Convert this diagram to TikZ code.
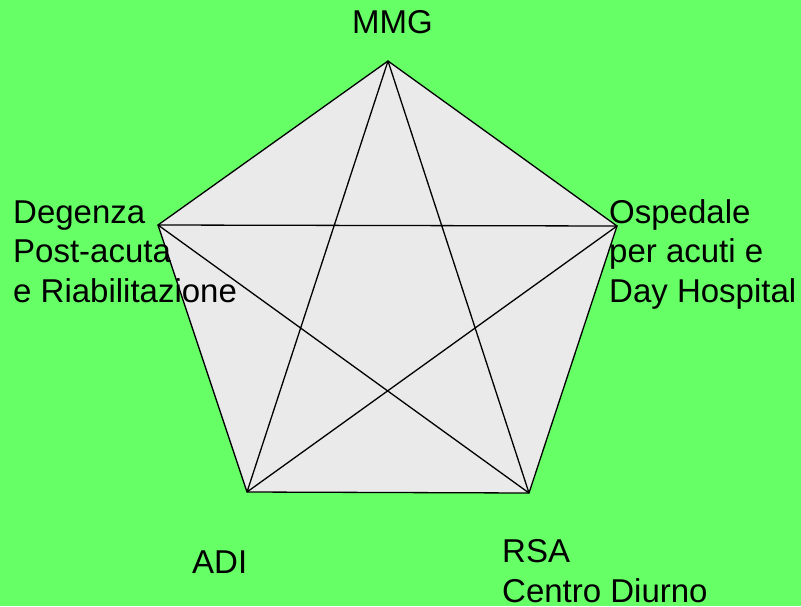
\documentclass[tikz,border=0pt]{standalone}
\usepackage{fontspec}
\setmainfont{Liberation Sans}
\definecolor{bggreen}{HTML}{66FF66}
\definecolor{pentgray}{HTML}{EAEAEA}
\begin{document}
\begin{tikzpicture}[x=1pt,y=-1pt,
  lbl/.style={font=\fontsize{33}{39.5}\selectfont, inner sep=0pt, align=left, anchor=base west},
  edge/.style={draw=black, line width=1.3pt, line join=miter}]
\fill[bggreen] (0,0) rectangle (801,606);
\useasboundingbox (0,0) rectangle (801,606);
\coordinate (T) at (388,61);
\coordinate (R) at (617,226);
\coordinate (BR) at (529,493);
\coordinate (BL) at (247,492);
\coordinate (L) at (158,225);
\fill[pentgray] (T) -- (R) -- (BR) -- (BL) -- (L) -- cycle;
\draw[edge] (T) -- (R) -- (BR) -- (BL) -- (L) -- cycle;
\draw[edge] (T) -- (BR) (T) -- (BL) (L) -- (R) (L) -- (BR) (R) -- (BL);
\node[lbl] (mmg) at (352,33) {MMG};
\node[lbl] (deg) at (13,302) {Degenza\\Post-acuta\\e Riabilitazione};
\node[lbl] (osp) at (609,302) {Ospedale\\per acuti e\\Day Hospital};
\node[lbl] (adi) at (192,573) {ADI};
\node[lbl] (rsa) at (502,602) {RSA\\Centro Diurno};
\end{tikzpicture}
\end{document}
